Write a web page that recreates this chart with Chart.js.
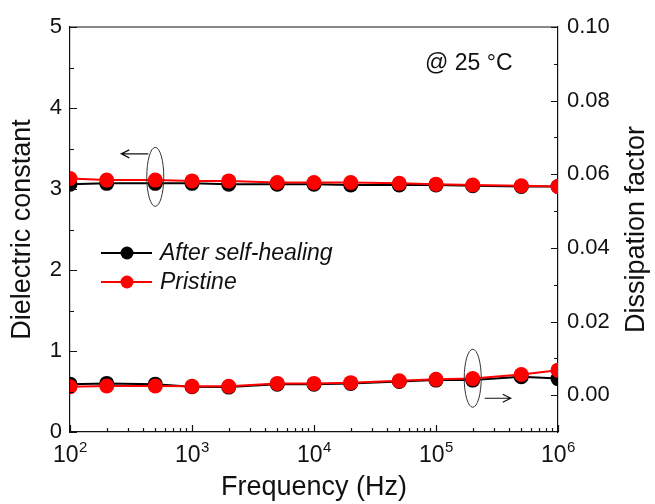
<!DOCTYPE html>
<html>
<head>
<meta charset="utf-8">
<script src="https://cdn.jsdelivr.net/npm/chart.js@4.4.1/dist/chart.umd.min.js"></script>
<style>
html,body{margin:0;padding:0;background:#fff;}
#wrap{width:655px;height:504px;position:relative;}
</style>
</head>
<body>
<div id="wrap"><canvas id="c" width="655" height="504"></canvas></div>
<script>
// ---- data ----
const freqs = [100,200,500,1000,2000,5000,10000,20000,50000,100000,200000,500000,1000000];
const dcHealed   = [3.06,3.07,3.07,3.07,3.06,3.06,3.06,3.05,3.05,3.05,3.04,3.03,3.03];
const dcPristine = [3.13,3.11,3.11,3.10,3.10,3.08,3.08,3.08,3.07,3.06,3.05,3.04,3.03];
const dfHealed   = [0.0030,0.0032,0.0030,0.0023,0.0022,0.0030,0.0030,0.0032,0.0037,0.0041,0.0041,0.0050,0.0045];
const dfPristine = [0.0023,0.0025,0.0025,0.0024,0.0024,0.0032,0.0032,0.0034,0.0039,0.0043,0.0045,0.0056,0.0068];
const seriesNames = ['After self-healing','Pristine'];
const xDecades = [2,3,4,5,6];
const leftTicks = [0,1,2,3,4,5];
const rightTicks = [0.00,0.02,0.04,0.06,0.08,0.10];
const xTitle = 'Frequency (Hz)';
const yTitle = 'Dielectric constant';
const y1Title = 'Dissipation factor';
const noteText = '@ 25 \u00B0C';

const FONT = '"Liberation Sans", Arial, sans-serif';
const INK = '#111';

function pts(ys){ return freqs.map((f,i)=>({x:f,y:ys[i]})); }
function ds(label, ys, color, axis, order){
  return {label, data: pts(ys), yAxisID: axis, borderColor: color, backgroundColor: color,
    pointBackgroundColor: color, pointBorderColor: color, pointBorderWidth: 0,
    pointRadius: 7.5, pointHoverRadius: 7.5, borderWidth: 2, tension: 0, order};
}

const extras = {
  id: 'extras',
  afterDatasetsDraw(chart){
    const ctx = chart.ctx;
    const a = chart.chartArea;
    const x = chart.scales.x, y = chart.scales.y, y1 = chart.scales.y1;
    ctx.save();
    ctx.strokeStyle = INK; ctx.lineWidth = 1.2;
    // top border
    ctx.beginPath(); ctx.moveTo(a.left, a.top); ctx.lineTo(a.right, a.top); ctx.stroke();
    // left ticks (inward)
    ctx.beginPath();
    for (let v = 0; v <= 5.0001; v += 0.5) {
      const py = Math.round(y.getPixelForValue(v)) + 0.5;
      const len = (Math.abs(v - Math.round(v)) < 1e-6) ? 7 : 4;
      ctx.moveTo(a.left, py); ctx.lineTo(a.left + len, py);
    }
    // right ticks (inward)
    for (let k = 0; k <= 10; k++) {
      const v = k / 100;
      const py = Math.round(y1.getPixelForValue(v)) + 0.5;
      const len = (k % 2 === 0) ? 7 : 4;
      ctx.moveTo(a.right, py); ctx.lineTo(a.right - len, py);
    }
    // x ticks (inward)
    for (let d = 2; d <= 6; d++) {
      for (let m = 1; m <= 9; m++) {
        if (d === 6 && m > 1) break;
        const v = m * Math.pow(10, d);
        const px = Math.round(x.getPixelForValue(v)) + 0.5;
        const len = (m === 1) ? 7 : 4;
        ctx.moveTo(px, a.bottom); ctx.lineTo(px, a.bottom - len);
      }
    }
    ctx.stroke();

    // x tick labels 10^n
    ctx.fillStyle = INK;
    ctx.textBaseline = 'alphabetic';
    xDecades.forEach(d => {
      const px = x.getPixelForValue(Math.pow(10, d));
      ctx.font = '23px ' + FONT;
      const w1 = ctx.measureText('10').width;
      ctx.font = '15px ' + FONT;
      const w2 = ctx.measureText(String(d)).width;
      const start = px - (w1 + w2) / 2;
      ctx.textAlign = 'left';
      ctx.font = '23px ' + FONT;
      ctx.fillText('10', start, 462);
      ctx.font = '15px ' + FONT;
      ctx.fillText(String(d), start + w1 + 0.5, 452);
    });

    // axis titles
    ctx.font = '27px ' + FONT;
    ctx.textAlign = 'center'; ctx.textBaseline = 'middle';
    ctx.fillText(xTitle, (a.left + a.right) / 2, 488);
    ctx.save();
    ctx.translate(23, (a.top + a.bottom) / 2); ctx.rotate(-Math.PI / 2);
    ctx.fillText(yTitle, 0, 0);
    ctx.restore();
    ctx.save();
    ctx.translate(637, (a.top + a.bottom) / 2); ctx.rotate(-Math.PI / 2);
    ctx.fillText(y1Title, 0, 0);
    ctx.restore();

    // note text
    ctx.font = '23px ' + FONT;
    ctx.textAlign = 'left'; ctx.textBaseline = 'alphabetic';
    ctx.fillText(noteText, 425, 70);

    // legend
    const colors = ['#000000', '#ff0000'];
    const rows = [253, 282];
    ctx.font = 'italic 23px ' + FONT;
    ctx.textBaseline = 'middle';
    seriesNames.forEach((name, i) => {
      const ry = rows[i];
      ctx.strokeStyle = colors[i]; ctx.lineWidth = 2;
      ctx.beginPath(); ctx.moveTo(101, ry); ctx.lineTo(152, ry); ctx.stroke();
      ctx.fillStyle = colors[i];
      ctx.beginPath(); ctx.arc(127, ry, 6.5, 0, Math.PI * 2); ctx.fill();
      ctx.fillStyle = INK;
      ctx.fillText(name, 160, ry + 1);
    });

    // annotations: ellipses + arrows
    ctx.strokeStyle = '#333'; ctx.lineWidth = 1;
    const e1x = x.getPixelForValue(500), e1y = y.getPixelForValue(3.15);
    ctx.beginPath(); ctx.ellipse(e1x, e1y, 8.5, 29.5, 0, 0, Math.PI * 2); ctx.stroke();
    const e2x = x.getPixelForValue(200000), e2y = y1.getPixelForValue(0.0046);
    ctx.beginPath(); ctx.ellipse(e2x, e2y, 8.5, 29, 0, 0, Math.PI * 2); ctx.stroke();
    // left arrow
    ctx.strokeStyle = '#111'; ctx.lineWidth = 1.2;
    ctx.beginPath();
    ctx.moveTo(e1x - 7, e1y - 23); ctx.lineTo(e1x - 34, e1y - 23);
    ctx.moveTo(e1x - 26, e1y - 27); ctx.lineTo(e1x - 34, e1y - 23); ctx.lineTo(e1x - 26, e1y - 19);
    ctx.stroke();
    // right arrow
    ctx.beginPath();
    ctx.moveTo(e2x + 12, e2y + 20); ctx.lineTo(e2x + 38, e2y + 20);
    ctx.moveTo(e2x + 30, e2y + 16); ctx.lineTo(e2x + 38, e2y + 20); ctx.lineTo(e2x + 30, e2y + 24);
    ctx.stroke();
    ctx.restore();
  }
};

new Chart(document.getElementById('c'), {
  type: 'line',
  data: {
    datasets: [
      ds(seriesNames[0], dcHealed, '#000000', 'y', 2),
      ds(seriesNames[1], dcPristine, '#ff0000', 'y', 1),
      ds(seriesNames[0], dfHealed, '#000000', 'y1', 2),
      ds(seriesNames[1], dfPristine, '#ff0000', 'y1', 1)
    ]
  },
  options: {
    responsive: false,
    animation: false,
    events: [],
    layout: { padding: { top: 27, left: 0, right: 0, bottom: 0 } },
    plugins: { legend: { display: false }, tooltip: { enabled: false }, title: { display: false } },
    scales: {
      x: {
        type: 'logarithmic', position: 'bottom', min: 100, max: 1000000,
        grid: { display: false, drawTicks: false },
        border: { display: true, color: INK, width: 1.2 },
        ticks: { display: false },
        afterFit(s){ s.height = 72; }
      },
      y: {
        type: 'linear', position: 'left', min: 0, max: 5,
        grid: { display: false, drawTicks: false },
        border: { display: true, color: INK, width: 1.2 },
        ticks: {
          stepSize: 1, autoSkip: false, padding: 8, color: INK,
          font: { family: FONT, size: 22 },
          callback: v => leftTicks.includes(v) ? String(v) : ''
        },
        afterFit(s){ s.width = 70; }
      },
      y1: {
        type: 'linear', position: 'right', min: -0.01, max: 0.10,
        grid: { display: false, drawTicks: false },
        border: { display: true, color: INK, width: 1.2 },
        ticks: {
          stepSize: 0.01, autoSkip: false, padding: 9, color: INK,
          font: { family: FONT, size: 22 },
          callback: v => {
            const k = Math.round(v * 100);
            return rightTicks.some(t => Math.round(t * 100) === k) ? (k / 100).toFixed(2) : '';
          }
        },
        afterFit(s){ s.width = 97; }
      }
    }
  },
  plugins: [extras]
});
</script>
</body>
</html>
